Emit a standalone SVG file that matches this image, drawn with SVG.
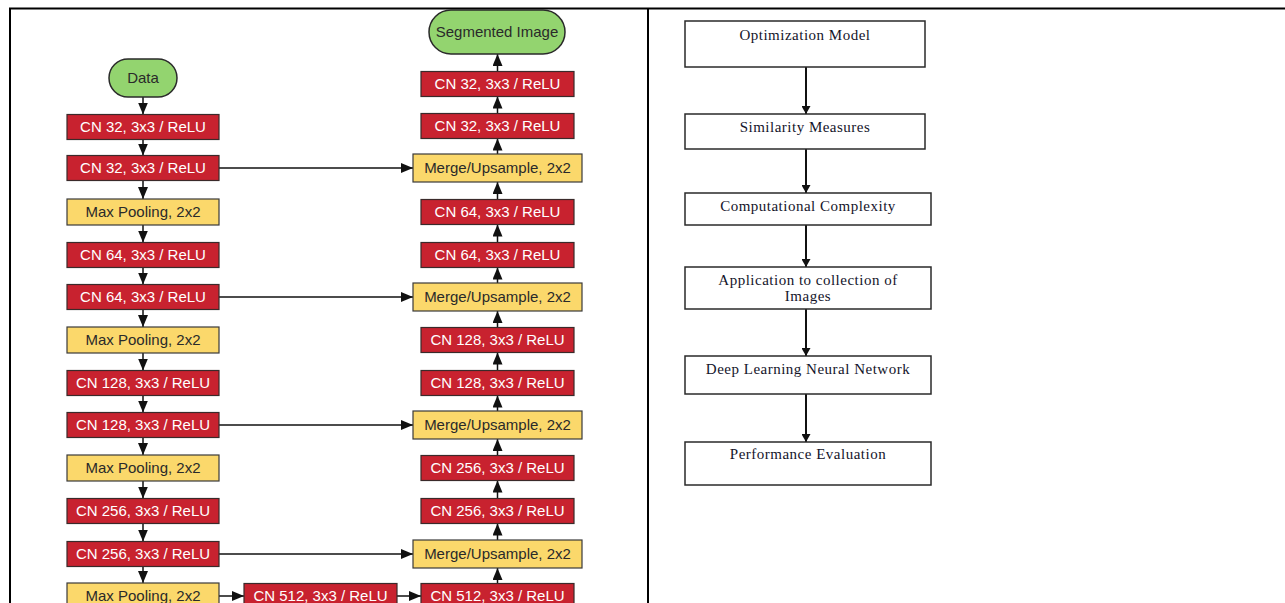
<svg xmlns="http://www.w3.org/2000/svg" width="1285" height="603" viewBox="0 0 1285 603">
<style>
.red{fill:#c8222f;stroke:#3a2a2a;stroke-width:1.2}
.yel{fill:#fbd86b;stroke:#3a3a3a;stroke-width:1.2}
.grn{fill:#93d46f;stroke:#2a2a2a;stroke-width:1.5}
.tw{font-family:"Liberation Sans",Arial,sans-serif;font-size:15px;fill:#ffffff;text-anchor:middle}
.td{font-family:"Liberation Sans",Arial,sans-serif;font-size:15px;fill:#2a2a2a;text-anchor:middle}
.fb{fill:#ffffff;stroke:#2a2a2a;stroke-width:1.5}
.ft{font-family:"Liberation Serif","Times New Roman",serif;font-size:15px;fill:#14142a;text-anchor:middle;letter-spacing:0.5px}
.c{stroke:#111;stroke-width:1.5;fill:none}
.cf{stroke:#111;stroke-width:2;fill:none}
.border{stroke:#000;stroke-width:2;fill:none}
</style>
<defs>
<marker id="ah" markerUnits="userSpaceOnUse" markerWidth="12" markerHeight="10" refX="12" refY="5" orient="auto">
<path d="M0,0 L12,5 L0,10 z" fill="#111"/>
</marker>
<marker id="ahs" markerUnits="userSpaceOnUse" markerWidth="8" markerHeight="9" refX="8" refY="4.5" orient="auto">
<path d="M0,0 L8,4.5 L0,9 z" fill="#111"/>
</marker>
</defs>
<rect width="1285" height="603" fill="#ffffff"/>
<g id="table-border">
<line class="border" x1="9" y1="8.5" x2="1285" y2="8.5"/>
<line class="border" x1="10" y1="8" x2="10" y2="603"/>
<line class="border" x1="648" y1="8" x2="648" y2="603"/>
</g>
<g id="connectors">
<line class="c" x1="143" y1="97" x2="143" y2="114.5" marker-end="url(#ah)"/>
<line class="c" x1="143" y1="139.5" x2="143" y2="155.5" marker-end="url(#ah)"/>
<line class="c" x1="143" y1="180.5" x2="143" y2="199" marker-end="url(#ah)"/>
<line class="c" x1="143" y1="225" x2="143" y2="242.5" marker-end="url(#ah)"/>
<line class="c" x1="143" y1="267.5" x2="143" y2="284.5" marker-end="url(#ah)"/>
<line class="c" x1="143" y1="309.5" x2="143" y2="327" marker-end="url(#ah)"/>
<line class="c" x1="143" y1="353" x2="143" y2="370.5" marker-end="url(#ah)"/>
<line class="c" x1="143" y1="395.5" x2="143" y2="412.5" marker-end="url(#ah)"/>
<line class="c" x1="143" y1="437.5" x2="143" y2="455" marker-end="url(#ah)"/>
<line class="c" x1="143" y1="481" x2="143" y2="498.5" marker-end="url(#ah)"/>
<line class="c" x1="143" y1="523.5" x2="143" y2="541.5" marker-end="url(#ah)"/>
<line class="c" x1="143" y1="566.5" x2="143" y2="583" marker-end="url(#ah)"/>
<line class="c" x1="497.5" y1="583.5" x2="497.5" y2="568" marker-end="url(#ah)"/>
<line class="c" x1="497.5" y1="540" x2="497.5" y2="523.5" marker-end="url(#ah)"/>
<line class="c" x1="497.5" y1="498.5" x2="497.5" y2="480.5" marker-end="url(#ah)"/>
<line class="c" x1="497.5" y1="455.5" x2="497.5" y2="439" marker-end="url(#ah)"/>
<line class="c" x1="497.5" y1="411" x2="497.5" y2="395.5" marker-end="url(#ah)"/>
<line class="c" x1="497.5" y1="370.5" x2="497.5" y2="352.5" marker-end="url(#ah)"/>
<line class="c" x1="497.5" y1="327.5" x2="497.5" y2="311" marker-end="url(#ah)"/>
<line class="c" x1="497.5" y1="283" x2="497.5" y2="267.5" marker-end="url(#ah)"/>
<line class="c" x1="497.5" y1="242.5" x2="497.5" y2="224.5" marker-end="url(#ah)"/>
<line class="c" x1="497.5" y1="199.5" x2="497.5" y2="182" marker-end="url(#ah)"/>
<line class="c" x1="497.5" y1="154" x2="497.5" y2="138.5" marker-end="url(#ah)"/>
<line class="c" x1="497.5" y1="113.5" x2="497.5" y2="96.5" marker-end="url(#ah)"/>
<line class="c" x1="497.5" y1="71.5" x2="497.5" y2="54" marker-end="url(#ah)"/>
<line class="c" x1="219" y1="168" x2="413" y2="168" marker-end="url(#ah)"/>
<line class="c" x1="219" y1="297" x2="413" y2="297" marker-end="url(#ah)"/>
<line class="c" x1="219" y1="425" x2="413" y2="425" marker-end="url(#ah)"/>
<line class="c" x1="219" y1="554" x2="413" y2="554" marker-end="url(#ah)"/>
<line class="c" x1="219" y1="596" x2="244" y2="596" marker-end="url(#ah)"/>
<line class="c" x1="397" y1="596" x2="421" y2="596" marker-end="url(#ah)"/>
<line class="cf" x1="806" y1="67" x2="806" y2="114" marker-end="url(#ahs)"/>
<line class="cf" x1="806" y1="149" x2="806" y2="193" marker-end="url(#ahs)"/>
<line class="cf" x1="806" y1="225" x2="806" y2="267" marker-end="url(#ahs)"/>
<line class="cf" x1="806" y1="309" x2="806" y2="356" marker-end="url(#ahs)"/>
<line class="cf" x1="806" y1="394" x2="806" y2="442" marker-end="url(#ahs)"/>
</g>
<g id="data"><rect class="grn" x="109" y="59" width="68" height="38" rx="19"/><text class="td" x="143" y="83">Data</text></g>
<g id="l1"><rect class="red" x="67" y="114.5" width="152" height="25"/><text class="tw" x="143" y="132">CN 32, 3x3 / ReLU</text></g>
<g id="l2"><rect class="red" x="67" y="155.5" width="152" height="25"/><text class="tw" x="143" y="173">CN 32, 3x3 / ReLU</text></g>
<g id="l3"><rect class="yel" x="67" y="199" width="152" height="26"/><text class="td" x="143" y="217">Max Pooling, 2x2</text></g>
<g id="l4"><rect class="red" x="67" y="242.5" width="152" height="25"/><text class="tw" x="143" y="260">CN 64, 3x3 / ReLU</text></g>
<g id="l5"><rect class="red" x="67" y="284.5" width="152" height="25"/><text class="tw" x="143" y="302">CN 64, 3x3 / ReLU</text></g>
<g id="l6"><rect class="yel" x="67" y="327" width="152" height="26"/><text class="td" x="143" y="345">Max Pooling, 2x2</text></g>
<g id="l7"><rect class="red" x="67" y="370.5" width="152" height="25"/><text class="tw" x="143" y="388">CN 128, 3x3 / ReLU</text></g>
<g id="l8"><rect class="red" x="67" y="412.5" width="152" height="25"/><text class="tw" x="143" y="430">CN 128, 3x3 / ReLU</text></g>
<g id="l9"><rect class="yel" x="67" y="455" width="152" height="26"/><text class="td" x="143" y="473">Max Pooling, 2x2</text></g>
<g id="l10"><rect class="red" x="67" y="498.5" width="152" height="25"/><text class="tw" x="143" y="516">CN 256, 3x3 / ReLU</text></g>
<g id="l11"><rect class="red" x="67" y="541.5" width="152" height="25"/><text class="tw" x="143" y="559">CN 256, 3x3 / ReLU</text></g>
<g id="l12"><rect class="yel" x="67" y="583" width="152" height="26"/><text class="td" x="143" y="601">Max Pooling, 2x2</text></g>
<g id="m1"><rect class="red" x="244" y="583.5" width="153" height="25"/><text class="tw" x="320.5" y="601">CN 512, 3x3 / ReLU</text></g>
<g id="seg"><rect class="grn" x="429" y="10" width="136" height="44" rx="22"/><text class="td" x="497" y="37">Segmented Image</text></g>
<g id="r1"><rect class="red" x="421" y="71.5" width="153" height="25"/><text class="tw" x="497.5" y="89">CN 32, 3x3 / ReLU</text></g>
<g id="r2"><rect class="red" x="421" y="113.5" width="153" height="25"/><text class="tw" x="497.5" y="131">CN 32, 3x3 / ReLU</text></g>
<g id="r3"><rect class="yel" x="413" y="154" width="169" height="28"/><text class="td" x="497.5" y="173">Merge/Upsample, 2x2</text></g>
<g id="r4"><rect class="red" x="421" y="199.5" width="153" height="25"/><text class="tw" x="497.5" y="217">CN 64, 3x3 / ReLU</text></g>
<g id="r5"><rect class="red" x="421" y="242.5" width="153" height="25"/><text class="tw" x="497.5" y="260">CN 64, 3x3 / ReLU</text></g>
<g id="r6"><rect class="yel" x="413" y="283" width="169" height="28"/><text class="td" x="497.5" y="302">Merge/Upsample, 2x2</text></g>
<g id="r7"><rect class="red" x="421" y="327.5" width="153" height="25"/><text class="tw" x="497.5" y="345">CN 128, 3x3 / ReLU</text></g>
<g id="r8"><rect class="red" x="421" y="370.5" width="153" height="25"/><text class="tw" x="497.5" y="388">CN 128, 3x3 / ReLU</text></g>
<g id="r9"><rect class="yel" x="413" y="411" width="169" height="28"/><text class="td" x="497.5" y="430">Merge/Upsample, 2x2</text></g>
<g id="r10"><rect class="red" x="421" y="455.5" width="153" height="25"/><text class="tw" x="497.5" y="473">CN 256, 3x3 / ReLU</text></g>
<g id="r11"><rect class="red" x="421" y="498.5" width="153" height="25"/><text class="tw" x="497.5" y="516">CN 256, 3x3 / ReLU</text></g>
<g id="r12"><rect class="yel" x="413" y="540" width="169" height="28"/><text class="td" x="497.5" y="559">Merge/Upsample, 2x2</text></g>
<g id="r13"><rect class="red" x="421" y="583.5" width="153" height="25"/><text class="tw" x="497.5" y="601">CN 512, 3x3 / ReLU</text></g>
<g id="f1"><rect class="fb" x="685" y="21" width="240" height="46"/><text class="ft" x="805" y="40">Optimization Model</text></g>
<g id="f2"><rect class="fb" x="685" y="114" width="240" height="35"/><text class="ft" x="805" y="132">Similarity Measures</text></g>
<g id="f3"><rect class="fb" x="685" y="193" width="246" height="32"/><text class="ft" x="808" y="211">Computational Complexity</text></g>
<g id="f4"><rect class="fb" x="685" y="267" width="246" height="42"/><text class="ft" x="808" y="285">Application to collection of</text><text class="ft" x="808" y="301">Images</text></g>
<g id="f5"><rect class="fb" x="685" y="356" width="246" height="38"/><text class="ft" x="808" y="374">Deep Learning Neural Network</text></g>
<g id="f6"><rect class="fb" x="685" y="442" width="246" height="43"/><text class="ft" x="808" y="459">Performance Evaluation</text></g>
</svg>
